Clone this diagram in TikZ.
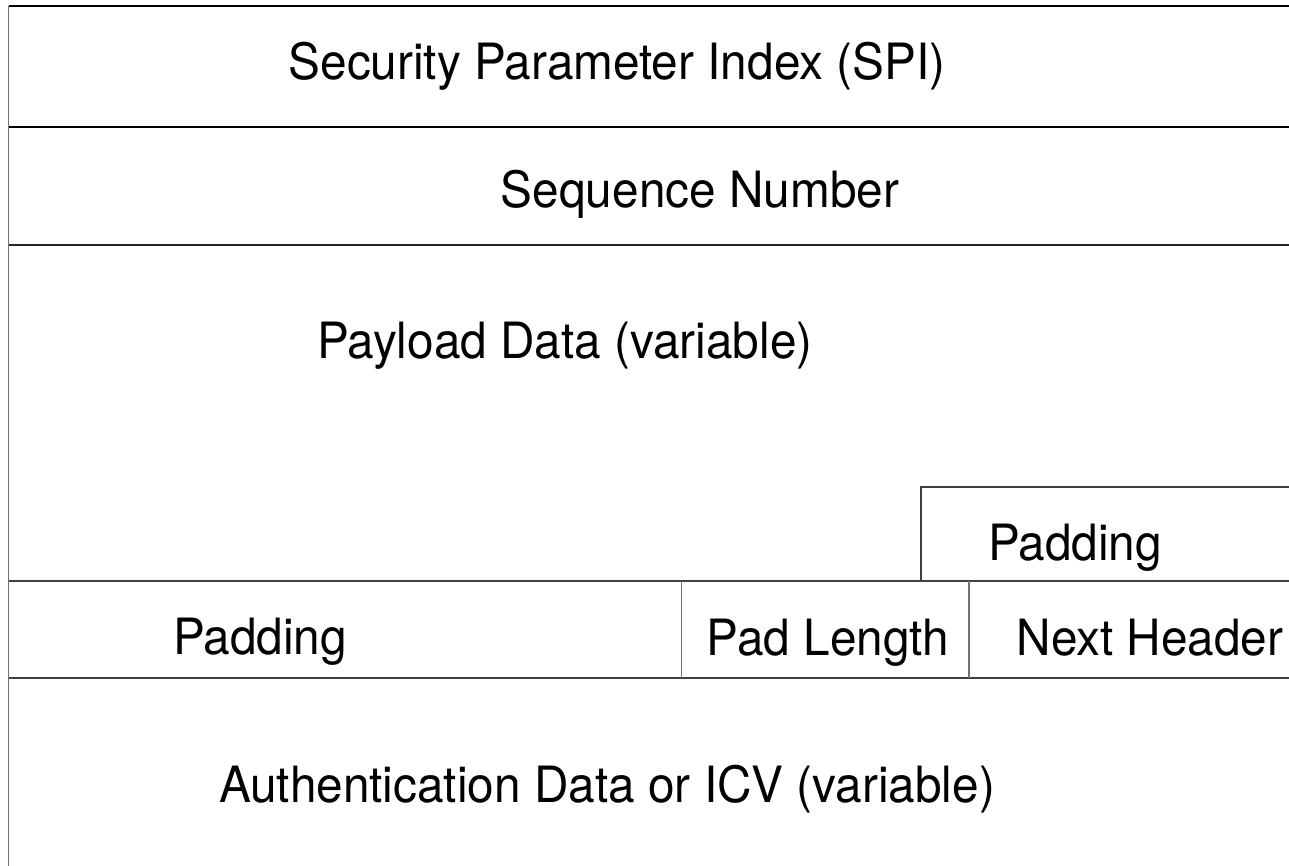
\documentclass[tikz,border=0pt]{standalone}
\usepackage{fontspec}
\setmainfont{TeX Gyre Heros}[FakeStretch=0.955]
\begin{document}
\begin{tikzpicture}[x=1pt,y=-1pt,
  lbl/.style={anchor=base, inner sep=0pt, font=\fontsize{50}{60}\selectfont},
  rulethick/.style={draw=black, line width=2pt},
  rulemid/.style={draw=black!85, line width=1.6pt},
  rulethin/.style={draw=black!75, line width=1.2pt},
  ruleside/.style={draw=black!55, line width=1.8pt}]
\useasboundingbox (0,0) rectangle (1289,866);
% coordinates
\coordinate (tl) at (8.5,6);
\coordinate (tr) at (1289,6);
\coordinate (bl) at (8.5,866);
\coordinate (l1) at (8.5,127);  \coordinate (r1) at (1289,127);
\coordinate (l2) at (8.5,245);  \coordinate (r2) at (1289,245);
\coordinate (l3) at (8.5,581);  \coordinate (r3) at (1289,581);
\coordinate (l4) at (8.5,678);  \coordinate (r4) at (1289,678);
\coordinate (pt) at (921,487);  \coordinate (ptr) at (1289,487);
\coordinate (pb) at (921,581);
\coordinate (v1t) at (681.5,581); \coordinate (v1b) at (681.5,678);
\coordinate (v2t) at (969,581);   \coordinate (v2b) at (969,678);
% lines
\draw[rulethick] (tl) -- (tr);
\draw[rulethick] (l1) -- (r1);
\draw[rulemid] (l2) -- (r2);
\draw[rulethin] (l3) -- (r3);
\draw[rulethin] (l4) -- (r4);
\draw[rulethin] (ptr) -- (pt) -- (pb);
\draw[ruleside] (v1t) -- (v1b);
\draw[ruleside] (v2t) -- (v2b);
\draw[ruleside] (tl) -- (bl);
% labels
\node[lbl] (spi) at (617,80) {Security Parameter Index (SPI)};
\node[lbl] (seq) at (700,208) {Sequence Number};
\node[lbl] (pay) at (565,358) {Payload Data (variable)};
\node[lbl] (pad1) at (1075,560) {Padding};
\node[lbl] (pad2) at (260,654) {Padding};
\node[lbl] (plen) at (828,655) {Pad Length};
\node[lbl] (nh) at (1150,655) {Next Header};
\node[lbl] (auth) at (607,802) {Authentication Data or ICV (variable)};
\end{tikzpicture}
\end{document}
